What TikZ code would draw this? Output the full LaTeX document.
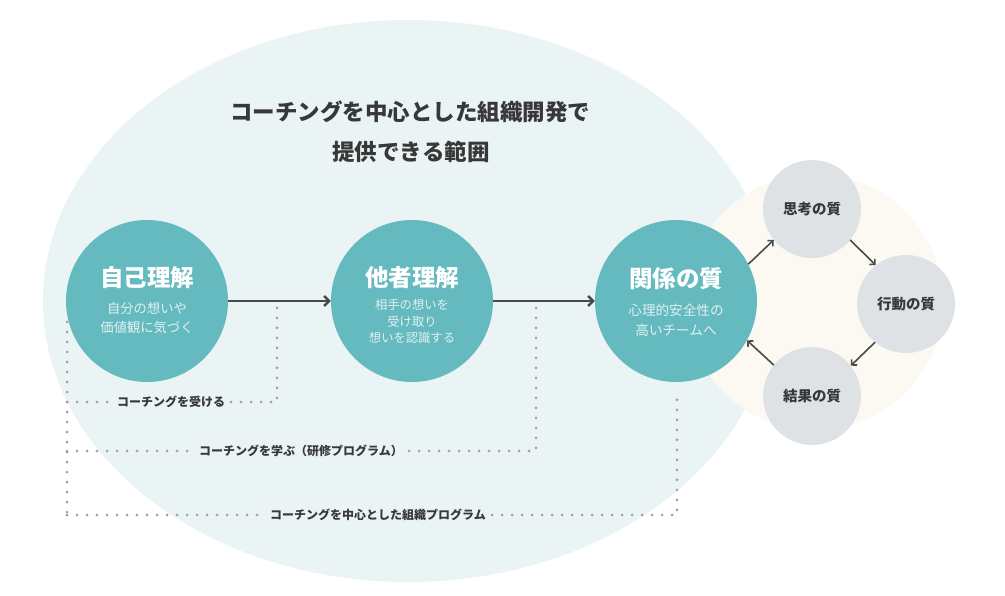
\documentclass[tikz,border=0pt]{standalone}
\usepackage{fontspec}
\setmainfont{Noto Sans CJK JP}
\usetikzlibrary{arrows.meta}
\definecolor{bgblue}{HTML}{EAF4F5}
\definecolor{teal1}{HTML}{64BABE}
\definecolor{cream}{HTML}{FCF9F2}
\definecolor{graycirc}{HTML}{DFE2E5}
\definecolor{darktext}{HTML}{383838}
\definecolor{arrowcol}{HTML}{4A4A4A}
\definecolor{dotcol}{HTML}{A0A0A0}
\definecolor{subtext}{HTML}{E0F1F2}
\tikzset{
  tealcirc/.style={circle, fill=teal1, minimum size=162pt, inner sep=0pt},
  graycircle/.style={circle, fill=graycirc, minimum size=98pt, inner sep=0pt,
    font=\fontsize{14.5}{16}\selectfont\bfseries, text=darktext},
  ctitle/.style={text=white, inner sep=0pt, font=\fontsize{23.5}{28}\selectfont\bfseries},
  csub/.style={text=subtext, inner sep=0pt, align=center},
  mainarrow/.style={draw=arrowcol, line width=2.5pt, -{Straight Barb[length=5pt,width=10pt]}},
  cyclearrow/.style={draw=arrowcol, line width=1.6pt, -{Straight Barb[length=4pt,width=8pt]}},
  dotline/.style={draw=dotcol, line width=3pt, line cap=round, dash pattern=on 0pt off 10pt},
  dotlabel/.style={inner sep=6pt, text=darktext, font=\fontsize{12}{14}\selectfont\bfseries},
  titletext/.style={text=darktext, inner sep=0pt, font=\fontsize{22.5}{27}\selectfont\bfseries}
}
\begin{document}
\begin{tikzpicture}[x=1pt,y=-1pt]
\useasboundingbox (0,0) rectangle (1005,596);
\fill[white] (0,0) rectangle (1005,596);
% background shapes
\fill[bgblue] (408,301) ellipse [x radius=365, y radius=281];
\node[circle, fill=cream, minimum size=256pt, inner sep=0pt] (cream) at (815,302) {};

% title
\node[titletext] (title1) at (410,112) {コーチングを中心とした組織開発で};
\node[titletext] (title2) at (411,152) {提供できる範囲};

% dotted lines
\coordinate (lt) at (67,322);
\coordinate (a1) at (67,402);
\coordinate (a2) at (67,451);
\coordinate (a3) at (67,515);
\coordinate (b1t) at (277,306);
\coordinate (b1) at (277,402);
\coordinate (b2t) at (536,306);
\coordinate (b2) at (536,451);
\coordinate (b3t) at (677,390);
\coordinate (b3) at (677,515);
\node[dotlabel] (lab1) at (171,402) {コーチングを受ける};
\node[dotlabel] (lab2) at (301,451) {コーチングを学ぶ（研修プログラム）};
\node[dotlabel] (lab3) at (378,515) {コーチングを中心とした組織プログラム};
\draw[dotline] (lt) -- (a3);
\draw[dotline] (a1) -- (lab1.west);
\draw[dotline] (lab1.east) -- (b1) -- (b1t);
\draw[dotline] (a2) -- (lab2.west);
\draw[dotline] (lab2.east) -- (b2) -- (b2t);
\draw[dotline] (a3) -- (lab3.west);
\draw[dotline] (lab3.east) -- (b3) -- (b3t);

% teal circles
\node[tealcirc] (jiko) at (147,301) {};
\node[tealcirc] (tasha) at (412,301) {};
\node[tealcirc] (kankei) at (676,301) {};

\node[ctitle] (jikoT) at (147,278) {自己理解};
\node[csub, font=\fontsize{13.3}{19}\selectfont] (jikoS) at (147,317.5) {自分の想いや\\価値観に気づく};
\node[ctitle] (tashaT) at (412,278) {他者理解};
\node[csub, font=\fontsize{12.3}{16.5}\selectfont] (tashaS) at (412,321.5) {相手の想いを\\受け取り\\想いを認識する};
\node[ctitle] (kankeiT) at (676,279) {関係の質};
\node[csub, font=\fontsize{13.6}{20}\selectfont] (kankeiS) at (676,320) {心理的安全性の\\高いチームへ};

% main arrows
\draw[mainarrow] (jiko.east) -- (tasha.west);
\draw[mainarrow] (tasha.east) -- (kankei.west);

% cycle circles
\node[graycircle] (shikou) at (812,209) {思考の質};
\node[graycircle] (koudou) at (906,304) {行動の質};
\node[graycircle] (kekka) at (812,396) {結果の質};

\draw[cyclearrow] (kankei.27) -- (shikou.219);
\draw[cyclearrow] (shikou.-39) -- (koudou.128);
\draw[cyclearrow] (koudou.231) -- (kekka.38);
\draw[cyclearrow] (kekka.141) -- (kankei.-29);
\end{tikzpicture}
\end{document}
